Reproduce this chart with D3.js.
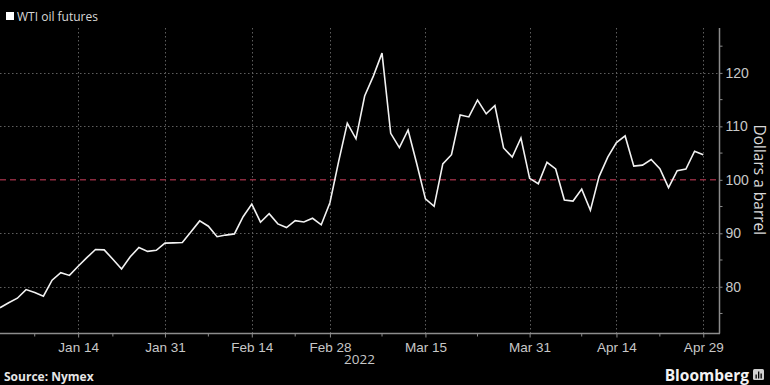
<!DOCTYPE html>
<html>
<head>
<meta charset="utf-8">
<script src="https://cdn.jsdelivr.net/npm/d3@7"></script>
<style>
  body { margin: 0; background: #000; }
  svg { display: block; font-family: "Open Sans", "Liberation Sans", sans-serif; }
  .tick text { fill: #c8c8c8; }
</style>
</head>
<body>
<div id="chart"></div>
<script>
// trading days, Jan 3 - Apr 29 2022
var dates = ["2022-01-03","2022-01-04","2022-01-05","2022-01-06","2022-01-07","2022-01-10","2022-01-11","2022-01-12","2022-01-13","2022-01-14",
  "2022-01-18","2022-01-19","2022-01-20","2022-01-21","2022-01-24","2022-01-25","2022-01-26","2022-01-27","2022-01-28","2022-01-31",
  "2022-02-01","2022-02-02","2022-02-03","2022-02-04","2022-02-07","2022-02-08","2022-02-09","2022-02-10","2022-02-11","2022-02-14",
  "2022-02-15","2022-02-16","2022-02-17","2022-02-18","2022-02-22","2022-02-23","2022-02-24","2022-02-25","2022-02-28",
  "2022-03-01","2022-03-02","2022-03-03","2022-03-04","2022-03-07","2022-03-08","2022-03-09","2022-03-10","2022-03-11",
  "2022-03-14","2022-03-15","2022-03-16","2022-03-17","2022-03-18","2022-03-21","2022-03-22","2022-03-23","2022-03-24","2022-03-25",
  "2022-03-28","2022-03-29","2022-03-30","2022-03-31","2022-04-01","2022-04-04","2022-04-05","2022-04-06","2022-04-07","2022-04-08",
  "2022-04-11","2022-04-12","2022-04-13","2022-04-14","2022-04-18","2022-04-19","2022-04-20","2022-04-21","2022-04-22",
  "2022-04-25","2022-04-26","2022-04-27","2022-04-28","2022-04-29"];

var prices = [76.08,76.99,77.85,79.46,78.90,78.23,81.22,82.64,82.12,83.82,
  85.43,86.96,86.90,85.14,83.31,85.60,87.35,86.61,86.82,88.15,
  88.20,88.26,90.27,92.31,91.32,89.36,89.66,89.88,93.10,95.46,
  92.07,93.66,91.76,91.07,92.35,92.10,92.81,91.59,95.72,
  103.41,110.60,107.67,115.68,119.40,123.70,108.70,106.02,109.33,
  103.01,96.44,95.04,102.98,104.70,112.12,111.76,114.93,112.34,113.90,
  105.96,104.24,107.82,100.28,99.27,103.28,102.03,96.23,96.03,98.26,
  94.29,100.60,104.25,106.95,108.21,102.56,102.75,103.79,102.07,
  98.54,101.70,102.02,105.36,104.69];

var xTicks = ["2022-01-14","2022-01-31","2022-02-14","2022-02-28","2022-03-15","2022-03-31","2022-04-14","2022-04-29"];
var xTickLabels = ["Jan 14","Jan 31","Feb 14","Feb 28","Mar 15","Mar 31","Apr 14","Apr 29"];
var xMinorTicks = ["2022-01-07","2022-01-21","2022-02-07","2022-02-22","2022-03-08","2022-03-23","2022-04-08","2022-04-22"];
var yTicks = [80, 90, 100, 110, 120];
var yMinorTicks = [75, 85, 95, 105, 115, 125];
var refLevel = 100;

var width = 770, height = 385;
var plot = { left: 0, right: 719.5, top: 28, bottom: 333.5 };

var svg = d3.select("#chart").append("svg")
  .attr("width", width)
  .attr("height", height);

svg.append("rect").attr("width", width).attr("height", height).attr("fill", "#000");

var idx = function(d) { return dates.indexOf(d); };

var xScale = d3.scaleLinear()
  .domain([0, dates.length + 0.87])
  .range([plot.left, plot.right]);

var yScale = d3.scaleLinear()
  .domain([71.25, 128.4])
  .range([plot.bottom, plot.top]);

// gridlines
var grid = svg.append("g").attr("stroke", "#5e5e5e").attr("stroke-dasharray", "1.5,2.5").attr("stroke-width", 1);
grid.selectAll("line.v").data(xTicks).enter().append("line")
  .attr("x1", d => Math.round(xScale(idx(d))) + 0.5)
  .attr("x2", d => Math.round(xScale(idx(d))) + 0.5)
  .attr("y1", plot.top).attr("y2", plot.bottom);
grid.selectAll("line.h").data(yTicks.filter(v => v !== refLevel)).enter().append("line")
  .attr("x1", plot.left).attr("x2", plot.right)
  .attr("y1", d => Math.round(yScale(d)) + 0.5)
  .attr("y2", d => Math.round(yScale(d)) + 0.5);

// reference line at 100
svg.append("line")
  .attr("x1", plot.left).attr("x2", plot.right)
  .attr("y1", yScale(refLevel)).attr("y2", yScale(refLevel))
  .attr("stroke", "#8a2a3e").attr("stroke-width", 1.5)
  .attr("stroke-dasharray", "6,4");

// price line
var line = d3.line()
  .x((d, i) => xScale(i))
  .y(d => yScale(d));

svg.append("path")
  .datum(prices)
  .attr("d", line)
  .attr("fill", "none")
  .attr("stroke", "#f2f2f2")
  .attr("stroke-width", 1.6)
  .attr("stroke-linejoin", "miter");

// bottom axis
var bottomAxis = d3.axisBottom(xScale)
  .tickValues(xTicks.map(idx))
  .tickFormat((d, i) => xTickLabels[i])
  .tickSize(4)
  .tickPadding(5);

var gx = svg.append("g")
  .attr("transform", `translate(0, ${plot.bottom})`)
  .call(bottomAxis);
gx.select(".domain").remove();
gx.selectAll(".tick line").attr("stroke", "#8c8c8c");
gx.selectAll(".tick text").attr("font-size", 13.5);

svg.append("g").selectAll("line").data(xMinorTicks).enter().append("line")
  .attr("x1", d => xScale(idx(d))).attr("x2", d => xScale(idx(d)))
  .attr("y1", plot.bottom).attr("y2", plot.bottom + 3)
  .attr("stroke", "#8c8c8c");

svg.append("line")
  .attr("x1", plot.left).attr("x2", plot.right + 0.5)
  .attr("y1", plot.bottom).attr("y2", plot.bottom)
  .attr("stroke", "#8c8c8c").attr("stroke-width", 1.5);

svg.append("text")
  .attr("x", xScale(41.4)).attr("y", 364)
  .attr("text-anchor", "middle")
  .attr("fill", "#c8c8c8").attr("font-size", 13.5)
  .text("2022");

// right axis
var rightAxis = d3.axisRight(yScale)
  .tickValues(yTicks)
  .tickSize(3)
  .tickPadding(3);

var gy = svg.append("g")
  .attr("transform", `translate(${plot.right}, 0)`)
  .call(rightAxis);
gy.select(".domain").remove();
gy.selectAll(".tick line").attr("stroke", "#8c8c8c");
gy.selectAll(".tick text").attr("font-size", 14);

svg.append("g").selectAll("line").data(yMinorTicks.filter(v => yScale(v) > plot.top && yScale(v) < plot.bottom)).enter().append("line")
  .attr("x1", plot.right).attr("x2", plot.right + 3)
  .attr("y1", d => yScale(d)).attr("y2", d => yScale(d))
  .attr("stroke", "#8c8c8c");

svg.append("line")
  .attr("x1", plot.right).attr("x2", plot.right)
  .attr("y1", plot.top).attr("y2", plot.bottom)
  .attr("stroke", "#8c8c8c").attr("stroke-width", 1.5);

svg.append("text")
  .attr("transform", `translate(754, ${yScale(refLevel)}) rotate(90)`)
  .attr("text-anchor", "middle")
  .attr("fill", "#d8d8d8").attr("font-size", 15.5)
  .text("Dollars a barrel");

// legend
svg.append("rect").attr("x", 6).attr("y", 12).attr("width", 8).attr("height", 8).attr("fill", "#fff");
svg.append("text").attr("x", 17).attr("y", 20.5)
  .attr("fill", "#d8d8d8").attr("font-size", 12)
  .text("WTI oil futures");

// footer
svg.append("text").attr("x", 4).attr("y", 381)
  .attr("fill", "#e6e6e6").attr("font-size", 12).attr("font-weight", "bold")
  .text("Source: Nymex");

svg.append("text").attr("x", 749).attr("y", 381)
  .attr("text-anchor", "end")
  .attr("fill", "#f2f2f2").attr("font-size", 15.5).attr("font-weight", "bold")
  .text("Bloomberg");

var icon = svg.append("g").attr("transform", "translate(753, 369)");
icon.append("rect").attr("width", 11).attr("height", 11).attr("rx", 1.5).attr("fill", "#cfcfcf");
icon.selectAll("rect.bar").data([4, 7, 5]).enter().append("rect")
  .attr("x", (d, i) => 2.5 + i * 2.5).attr("y", d => 9.5 - d)
  .attr("width", 1.3).attr("height", d => d).attr("fill", "#000");
</script>
</body>
</html>
